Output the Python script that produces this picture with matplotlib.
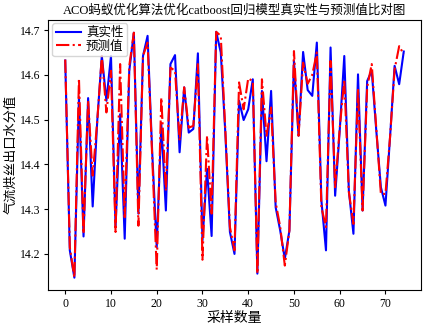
import matplotlib
matplotlib.use("Agg")
import matplotlib.pyplot as plt
import numpy as np

plt.rcParams['font.family'] = ['Liberation Serif', 'Noto Sans CJK SC']
plt.rcParams['axes.unicode_minus'] = False

title = "ACO蚂蚁优化算法优化catboost回归模型真实性与预测值比对图"
xlabel = "采样数量"
ylabel = "气流烘丝出口水分值"
label_true = "真实性"
label_pred = "预测值"

y_true = [14.632, 14.208, 14.147, 14.550, 14.239, 14.548, 14.306, 14.497, 14.642, 14.542,
          14.642, 14.260, 14.512, 14.234, 14.609, 14.694, 14.290, 14.642, 14.687, 14.430,
          14.215, 14.490, 14.297, 14.624, 14.644, 14.427, 14.572, 14.471, 14.479, 14.648,
          14.230, 14.390, 14.240, 14.696, 14.650, 14.470, 14.249, 14.200, 14.542, 14.499,
          14.523, 14.590, 14.156, 14.564, 14.407, 14.564, 14.304, 14.252, 14.189, 14.252,
          14.631, 14.464, 14.651, 14.566, 14.553, 14.672, 14.319, 14.208, 14.661, 14.330,
          14.475, 14.642, 14.341, 14.245, 14.601, 14.297, 14.586, 14.609, 14.475, 14.349,
          14.308, 14.460, 14.620, 14.579, 14.652]
y_pred = [14.634, 14.215, 14.147, 14.592, 14.245, 14.542, 14.375, 14.497, 14.642, 14.516,
          14.609, 14.249, 14.624, 14.282, 14.620, 14.694, 14.263, 14.642, 14.672, 14.420,
          14.165, 14.549, 14.341, 14.616, 14.609, 14.453, 14.572, 14.482, 14.486, 14.624,
          14.187, 14.464, 14.290, 14.696, 14.687, 14.475, 14.260, 14.208, 14.583, 14.523,
          14.592, 14.586, 14.156, 14.590, 14.464, 14.527, 14.315, 14.260, 14.174, 14.252,
          14.653, 14.464, 14.627, 14.580, 14.600, 14.650, 14.304, 14.260, 14.631, 14.349,
          14.480, 14.590, 14.338, 14.267, 14.568, 14.297, 14.572, 14.624, 14.480, 14.334,
          14.334, 14.460, 14.612, 14.664, 14.646]

x = np.arange(len(y_true))

fig = plt.figure(figsize=(4.29, 3.31), dpi=100)
ax = fig.add_axes([0.1126, 0.124, 0.868, 0.817])
ax.plot(x, y_true, color='blue', linestyle='-', linewidth=1.5, label=label_true)
ax.plot(x, y_pred, color='red', linestyle='-.', linewidth=1.5, label=label_pred)
ax.set_title(title, fontsize=9, pad=4)
ax.set_xlabel(xlabel, fontsize=10, labelpad=2)
ax.set_ylabel(ylabel, fontsize=9.5, labelpad=2)
ax.set_xticks([0, 10, 20, 30, 40, 50, 60, 70])
ax.set_yticks([14.2, 14.3, 14.4, 14.5, 14.6, 14.7])
ax.tick_params(labelsize=8.5, length=3, pad=2.5)
ax.legend(loc='upper left', fontsize=9, handlelength=2.0, borderpad=0.3,
          labelspacing=0.1, handletextpad=0.4, borderaxespad=0.3)
fig.savefig("out.png", dpi=100)
